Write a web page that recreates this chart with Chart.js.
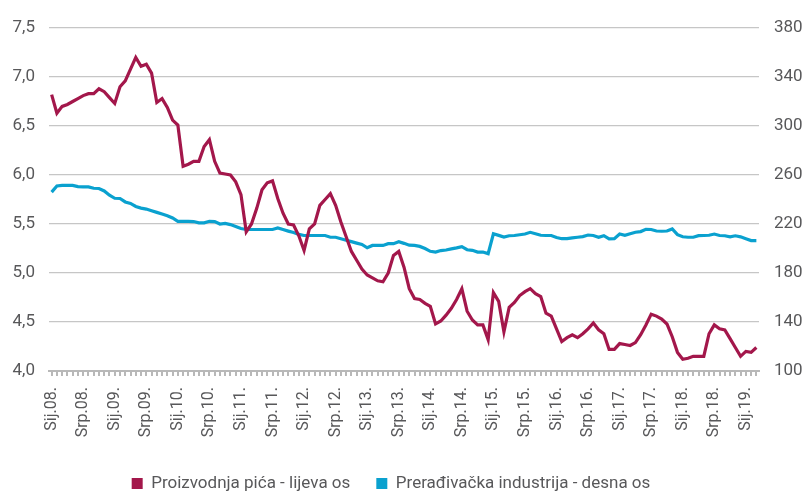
<!DOCTYPE html>
<html>
<head>
<meta charset="utf-8">
<script src="https://cdn.jsdelivr.net/npm/chart.js@4.4.1/dist/chart.umd.min.js"></script>
<style>
  html, body { margin: 0; padding: 0; background: #fff; }
  #wrap { width: 806px; height: 492px; }
</style>
</head>
<body>
<div id="wrap"><canvas id="chart" width="806" height="492"></canvas></div>
<script>
// mjesecne oznake, sij.2008 - ozu.2019
const monthNames = ['Sij', 'Velj', 'Ožu', 'Tra', 'Svi', 'Lip', 'Srp', 'Kol', 'Ruj', 'Lis', 'Stu', 'Pro'];
const shownMonths = ['Sij', 'Srp'];
const categories = [];
for (let y = 2008; y <= 2019; y++) {
  for (let m = 0; m < 12; m++) {
    if (categories.length < 135) categories.push(monthNames[m] + '.' + String(y).slice(2) + '.');
  }
}

// lijeva os
const proizvodnjaPica = [
  6.82, 6.63, 6.70, 6.72, 6.75, 6.78, 6.81, 6.83, 6.83, 6.88,
  6.85, 6.79, 6.73, 6.90, 6.96, 7.08, 7.20, 7.11, 7.13, 7.04,
  6.74, 6.78, 6.69, 6.56, 6.51, 6.09, 6.11, 6.14, 6.14, 6.29,
  6.36, 6.14, 6.02, 6.01, 6.00, 5.93, 5.80, 5.42, 5.50, 5.66,
  5.85, 5.92, 5.94, 5.76, 5.61, 5.50, 5.49, 5.38, 5.23, 5.45,
  5.50, 5.69, 5.75, 5.81, 5.69, 5.52, 5.37, 5.22, 5.13, 5.04,
  4.98, 4.95, 4.92, 4.91, 5.00, 5.18, 5.22, 5.06, 4.84, 4.74,
  4.73, 4.69, 4.66, 4.48, 4.51, 4.57, 4.64, 4.73, 4.84, 4.61,
  4.52, 4.47, 4.47, 4.32, 4.80, 4.71, 4.40, 4.65, 4.70, 4.77,
  4.81, 4.84, 4.79, 4.76, 4.59, 4.56, 4.43, 4.30, 4.34, 4.37,
  4.34, 4.38, 4.43, 4.49, 4.42, 4.38, 4.22, 4.22, 4.28, 4.27,
  4.26, 4.29, 4.37, 4.47, 4.58, 4.56, 4.53, 4.48, 4.35, 4.19,
  4.12, 4.13, 4.15, 4.15, 4.15, 4.38, 4.47, 4.43, 4.42, 4.33,
  4.24, 4.15, 4.20, 4.19, 4.24
];

// desna os
const preradivackaIndustrija = [
  246, 251, 251.5, 251.5, 251.5, 250.5, 250.3, 250.3, 249.2, 249,
  247, 243.5, 241, 240.8, 238, 236.8, 234.3, 233, 232.2, 230.8,
  229.5, 228.1, 226.8, 224.9, 222.2, 222.2, 222.2, 222, 221, 221,
  222.2, 222, 220, 220.5, 219.5, 218, 216.3, 215.5, 215.5, 215.5,
  215.5, 215.5, 215.5, 216.8, 215.5, 214.2, 213, 211.5, 210.6, 210.6,
  210.6, 210.6, 210.6, 209.2, 209.2, 208, 206.8, 205.6, 204.4, 203.3,
  200.6, 202.5, 202.5, 202.5, 203.9, 203.9, 205.5, 204.2, 202.7, 202.5,
  201.7, 200, 197.7, 197.1, 198.3, 198.8, 199.7, 200.5, 201.5, 199,
  198.5, 197.1, 197.1, 195.8, 212, 210.7, 209.3, 210.4, 210.6, 211.2,
  211.8, 213.2, 212, 210.8, 210.6, 210.6, 209, 208, 208, 208.7,
  209.2, 209.7, 211, 210.6, 209.2, 210.5, 207.9, 208, 211.8, 210.7,
  212, 213.3, 213.8, 215.6, 215.5, 214.3, 214.1, 214.3, 216, 211.3,
  209.6, 209.2, 209.2, 210.5, 210.6, 210.8, 211.8, 210.6, 210.4, 209.5,
  210.4, 209.5, 208, 206.5, 206.5
];

const seriesNames = ['Proizvodnja pića - lijeva os', 'Prerađivačka industrija - desna os'];
const leftTicks = { min: 4, max: 7.5, step: 0.5 };
const rightTicks = { min: 100, max: 380, step: 40 };

const RED = '#a3174b';
const BLUE = '#0aa1cf';
const TEXT = '#58585a';
const FONT = 'Roboto, "Liberation Sans", sans-serif';

// legenda je u originalu malo lijevo od sredine
const shiftLegend = {
  id: 'shiftLegend',
  afterLayout(chart) {
    if (chart.legend) {
      chart.legend.left -= 12;
      chart.legend.right -= 12;
    }
  }
};

const ctx = document.getElementById('chart').getContext('2d');
new Chart(ctx, {
  type: 'line',
  data: {
    labels: categories,
    datasets: [
      {
        label: seriesNames[0],
        data: proizvodnjaPica,
        borderColor: RED,
        backgroundColor: RED,
        borderWidth: 3.2,
        pointRadius: 0,
        tension: 0,
        yAxisID: 'y'
      },
      {
        label: seriesNames[1],
        data: preradivackaIndustrija,
        borderColor: BLUE,
        backgroundColor: BLUE,
        borderWidth: 3.2,
        pointRadius: 0,
        tension: 0,
        yAxisID: 'y1'
      }
    ]
  },
  plugins: [shiftLegend],
  options: {
    responsive: false,
    animation: false,
    layout: { padding: { top: 28, bottom: -10, left: 0, right: 0 } },
    plugins: {
      tooltip: { enabled: false },
      legend: {
        position: 'bottom',
        labels: {
          color: TEXT,
          font: { family: FONT, size: 17 },
          boxWidth: 11,
          boxHeight: 11,
          padding: 26,
          generateLabels: function(chart) {
            const items = Chart.defaults.plugins.legend.labels.generateLabels(chart);
            items.forEach(it => { it.lineWidth = 0; });
            return items;
          }
        }
      }
    },
    scales: {
      x: {
        offset: true,
        afterFit: s => { s.height = 78; },
        grid: {
          display: true,
          drawOnChartArea: false,
          drawTicks: true,
          tickLength: 5,
          color: '#b8b8b8',
          lineWidth: 2
        },
        border: { display: true, color: '#b8b8b8', width: 2 },
        ticks: {
          autoSkip: false,
          minRotation: 90,
          maxRotation: 90,
          padding: 11,
          color: TEXT,
          font: { family: FONT, size: 16 },
          callback: function(value) {
            const lab = this.getLabelForValue(value);
            return shownMonths.includes(lab.split('.')[0]) ? lab : '';
          }
        }
      },
      y: {
        position: 'left',
        min: leftTicks.min,
        max: leftTicks.max,
        afterFit: s => { s.width = 49; },
        grid: { color: '#c6c6c6', lineWidth: 1.3, drawTicks: false },
        border: { display: false },
        ticks: {
          stepSize: leftTicks.step,
          padding: 14,
          color: TEXT,
          font: { family: FONT, size: 17 },
          callback: v => v.toFixed(1).replace('.', ',')
        }
      },
      y1: {
        position: 'right',
        min: rightTicks.min,
        max: rightTicks.max,
        afterFit: s => { s.width = 47; },
        grid: { display: false, drawTicks: false },
        border: { display: false },
        ticks: {
          stepSize: rightTicks.step,
          padding: 15,
          color: TEXT,
          font: { family: FONT, size: 17 }
        }
      }
    }
  }
});
</script>
</body>
</html>
